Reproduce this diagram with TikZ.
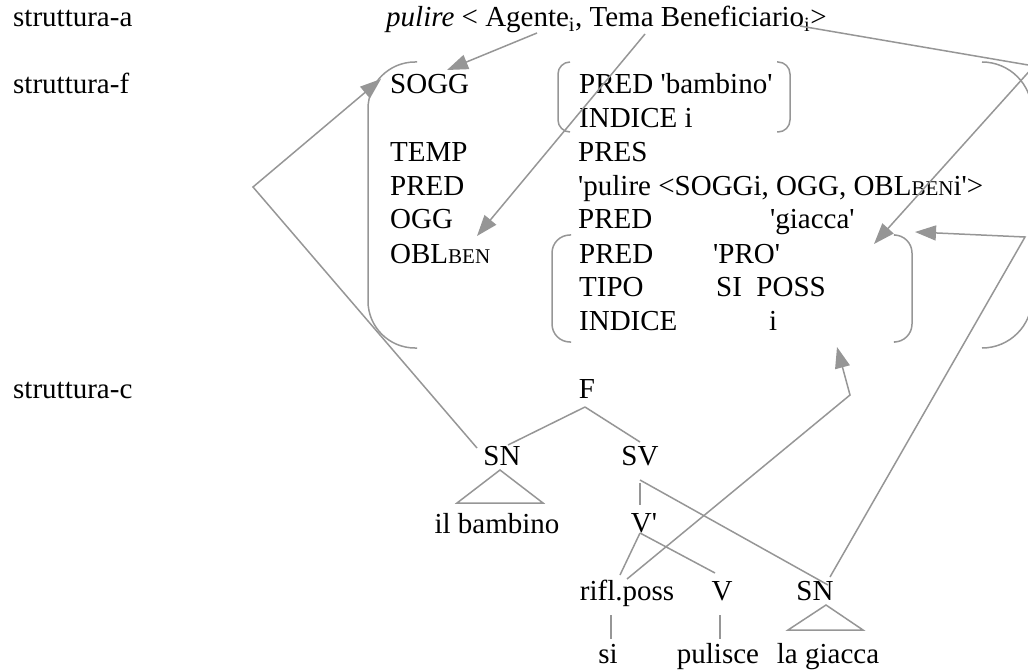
\documentclass[tikz,border=0pt]{standalone}
\usepackage{fontspec}
\setmainfont{Liberation Serif}
\usetikzlibrary{arrows.meta}
\definecolor{linegray}{RGB}{150,150,150}
\newcommand{\smallcap}[1]{{\fontsize{21}{21}\selectfont #1}}
\newcommand{\sq}{\textquotesingle}

\begin{document}
\begin{tikzpicture}[x=1pt,y=-1pt,
  lbl/.style={inner sep=0pt, anchor=base west, font=\fontsize{29}{34}\selectfont},
  tr/.style={inner sep=0pt, anchor=base, font=\fontsize{29}{34}\selectfont},
  ln/.style={draw=linegray, line width=1.5pt},
  arr/.style={ln, -{Triangle[length=21pt,width=15pt]}},
  brk/.style={ln, rounded corners=#1},
]
\useasboundingbox (0,0) rectangle (1028,671);
\clip (0,0) rectangle (1028,671);

% row labels
\node[lbl] (sa) at (13,27)  {struttura-a};
\node[lbl] (sf) at (13,94)  {struttura-f};
\node[lbl] (sc) at (13,398) {struttura-c};

% argument structure
\node[lbl] (arg) at (386,27) {\textit{pulire} < Agente\textsubscript{i}, Tema Beneficiario\textsubscript{i}>};

% f-structure: attributes
\node[lbl] (sogg) at (390,94)    {SOGG};
\node[lbl] (temp) at (390,162)   {TEMP};
\node[lbl] (pred) at (390,195.5) {PRED};
\node[lbl] (ogg)  at (390,229)   {OGG};
\node[lbl] (obl)  at (390,263)   {OBL\smallcap{BEN}};

% f-structure: values
\node[lbl] (v1) at (579,94)    {PRED \sq bambino\sq};
\node[lbl] (v2) at (579,128)   {INDICE i};
\node[lbl] (v3) at (578,162)   {PRES};
\node[lbl] (v4) at (578,195.5) {\sq pulire <SOGGi, OGG, OBL\smallcap{BEN}i\sq>};
\node[lbl] (v5) at (578,229)   {PRED};
\node[lbl] (v5b) at (770,229)  {\sq giacca\sq};
\node[lbl] (v6) at (579,263)   {PRED};
\node[lbl] (v6b) at (713,263)  {\sq PRO\sq};
\node[lbl] (v7) at (579,296.5) {TIPO};
\node[lbl] (v7b) at (716,296.5) {SI\ \ POSS};
\node[lbl] (v8) at (579,330)   {INDICE};
\node[lbl] (v8b) at (769,330)  {i};

% brackets
\draw[brk=47pt] (417,62) -- (368,62) -- (368,348) -- (417,348);
\draw[brk=50pt] (982,62) -- (1032,62) -- (1032,348) -- (982,348);
\draw[brk=12pt] (570,62) -- (558,62) -- (558,132) -- (570,132);
\draw[brk=12pt] (777,62) -- (790,62) -- (790,132) -- (777,132);
\draw[brk=18pt] (571,235) -- (552,235) -- (552,342) -- (571,342);
\draw[brk=18pt] (895,235) -- (912,235) -- (912,342) -- (895,342);

% c-structure tree
\node[tr] (F)   at (587,398) {F};
\node[tr] (SN)  at (502,465) {SN};
\node[tr] (SV)  at (640,465) {SV};
\node[tr] (ilb) at (497,533) {il bambino};
\node[tr] (Vb)  at (644,532) {V\sq};
\node[tr] (rp)  at (627,600) {rifl.poss};
\node[tr] (V)   at (722,600) {V};
\node[tr] (SNb) at (815,600) {SN};
\node[tr] (si)  at (608,663) {si};
\node[tr] (pul) at (718,663) {pulisce};
\node[tr] (lag) at (828,663) {la giacca};

% tree attachment points
\coordinate (Fb)   at (585,407);
\coordinate (SNt)  at (508,445);
\coordinate (SVt)  at (640,442);
\coordinate (SNa)  at (500,470);
\coordinate (SNl)  at (457,503);
\coordinate (SNr)  at (543,503);
\coordinate (SVb)  at (640,480);
\coordinate (SVv)  at (640,483);
\coordinate (Vbt)  at (640,505);
\coordinate (Vbb)  at (640,533);
\coordinate (rpt)  at (620,575);
\coordinate (Vt)   at (715,573);
\coordinate (rpb)  at (611,615);
\coordinate (sit)  at (611,639);
\coordinate (Vbot) at (720,615);
\coordinate (pult) at (720,639);
\coordinate (SNbt) at (828,585);
\coordinate (SNba) at (826,605);
\coordinate (SNbl) at (788,630);
\coordinate (SNbr) at (863,630);

\draw[ln] (Fb) -- (SNt);
\draw[ln] (Fb) -- (SVt);
\draw[ln] (SNa) -- (SNl) -- (SNr) -- cycle;
\draw[ln] (SVv) -- (Vbt);
\draw[ln] (SVb) -- (SNbt);
\draw[ln] (Vbb) -- (rpt);
\draw[ln] (Vbb) -- (Vt);
\draw[ln] (rpb) -- (sit);
\draw[ln] (Vbot) -- (pult);
\draw[ln] (SNba) -- (SNbl) -- (SNbr) -- cycle;

% correspondence arrows
\coordinate (agA) at (537,33);
\coordinate (agT) at (447,70);
\coordinate (tmA) at (645,34);
\coordinate (tmT) at (477,236);
\coordinate (bnA) at (800,26);
\coordinate (bnC) at (1034,66);
\coordinate (bnT) at (874,244);
\coordinate (snA) at (477,448);
\coordinate (snC) at (253,187);
\coordinate (snT) at (381,79);
\coordinate (rpA) at (627,579);
\coordinate (rpC) at (850,395);
\coordinate (rpT) at (837,347);
\coordinate (gcA) at (830,577);
\coordinate (gcC) at (1025,237);
\coordinate (gcT) at (915,232);

\draw[arr] (agA) -- (agT);
\draw[arr] (tmA) -- (tmT);
\draw[arr] (bnA) -- (bnC) -- (bnT);
\draw[arr] (snA) -- (snC) -- (snT);
\draw[arr] (rpA) -- (rpC) -- (rpT);
\draw[arr] (gcA) -- (gcC) -- (gcT);
\end{tikzpicture}
\end{document}
